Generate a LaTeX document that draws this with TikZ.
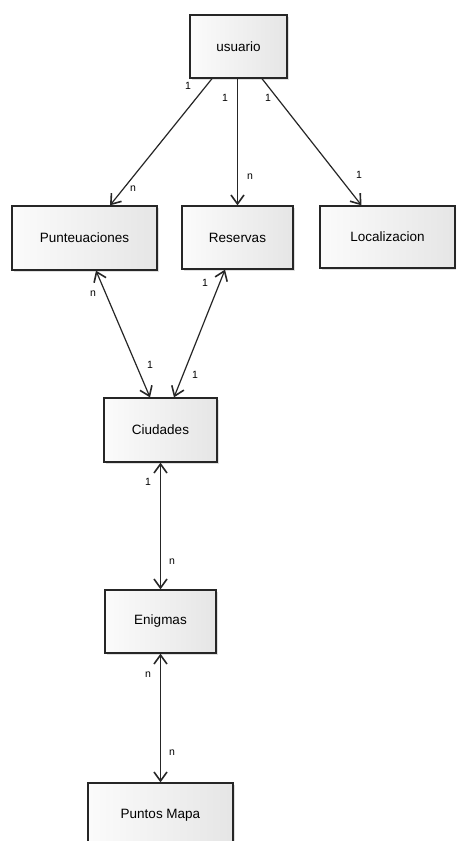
\documentclass[tikz,border=0pt]{standalone}
\usepackage{fontspec}
\setmainfont{Liberation Sans}
\usetikzlibrary{arrows.meta,shadows}

\tikzset{
  entity/.style={draw=black!85, line width=1.3pt, rectangle,
    left color=gray!3, right color=gray!20,
    drop shadow={shadow xshift=2pt, shadow yshift=-2pt, opacity=0.25},
    font=\fontsize{13.5}{15}\selectfont, inner sep=0pt},
  barb/.tip={Straight Barb[length=9pt,width=13pt,line width=1.6pt]},
  rel/.style={draw=black!85, line width=1.2pt, -barb},
  birel/.style={draw=black!85, line width=1.2pt, barb-barb},
  card/.style={font=\fontsize{10.5}{12}\selectfont, inner sep=0pt}
}

\begin{document}
\begin{tikzpicture}[x=1pt, y=-1pt]
  \clip (0,0) rectangle (456,841);
  \fill[white] (0,0) rectangle (456,841);

  % entities
  \node[entity, minimum width=97pt,  minimum height=63pt] (usuario) at (238.5,46.5) {usuario};
  \node[entity, minimum width=145pt, minimum height=64pt] (punt)    at (84.5,238)   {Punteuaciones};
  \node[entity, minimum width=111pt, minimum height=63pt] (res)     at (237.5,237.5){Reservas};
  \node[entity, minimum width=135pt, minimum height=62pt] (loc)     at (387.5,237)  {Localizacion};
  \node[entity, minimum width=113pt, minimum height=64pt] (ciud)    at (160.5,430)  {Ciudades};
  \node[entity, minimum width=111pt, minimum height=63pt] (enig)    at (160.5,621.5){Enigmas};
  \node[entity, minimum width=145pt, minimum height=64pt] (pm)      at (160.5,815)  {Puntos Mapa};

  % relations
  \draw[rel] ([xshift=-26.5pt]usuario.south) -- ([xshift=25.5pt]punt.north);
  \draw[rel] ([xshift=-1pt]usuario.south) -- (res.north);
  \draw[rel] ([xshift=23.5pt]usuario.south) -- ([xshift=-26pt]loc.north);
  \draw[birel] ([xshift=11.5pt]punt.south) -- ([xshift=-10.5pt]ciud.north);
  \draw[birel] ([xshift=-12.5pt]res.south) -- ([xshift=13.5pt]ciud.north);
  \draw[birel] (ciud.south) -- (enig.north);
  \draw[birel] (enig.south) -- (pm.north);

  % cardinalities
  \node[card] (c1)  at (188,86)  {1};
  \node[card] (c2)  at (133,189) {n};
  \node[card] (c3)  at (225,98)  {1};
  \node[card] (c4)  at (250,177) {n};
  \node[card] (c5)  at (268,98)  {1};
  \node[card] (c6)  at (359,175) {1};
  \node[card] (c7)  at (93,294)  {n};
  \node[card] (c8)  at (205,283) {1};
  \node[card] (c9)  at (150,365) {1};
  \node[card] (c10) at (195,375) {1};
  \node[card] (c11) at (148,482) {1};
  \node[card] (c12) at (172,562) {n};
  \node[card] (c13) at (148,675) {n};
  \node[card] (c14) at (172,753) {n};
\end{tikzpicture}
\end{document}
